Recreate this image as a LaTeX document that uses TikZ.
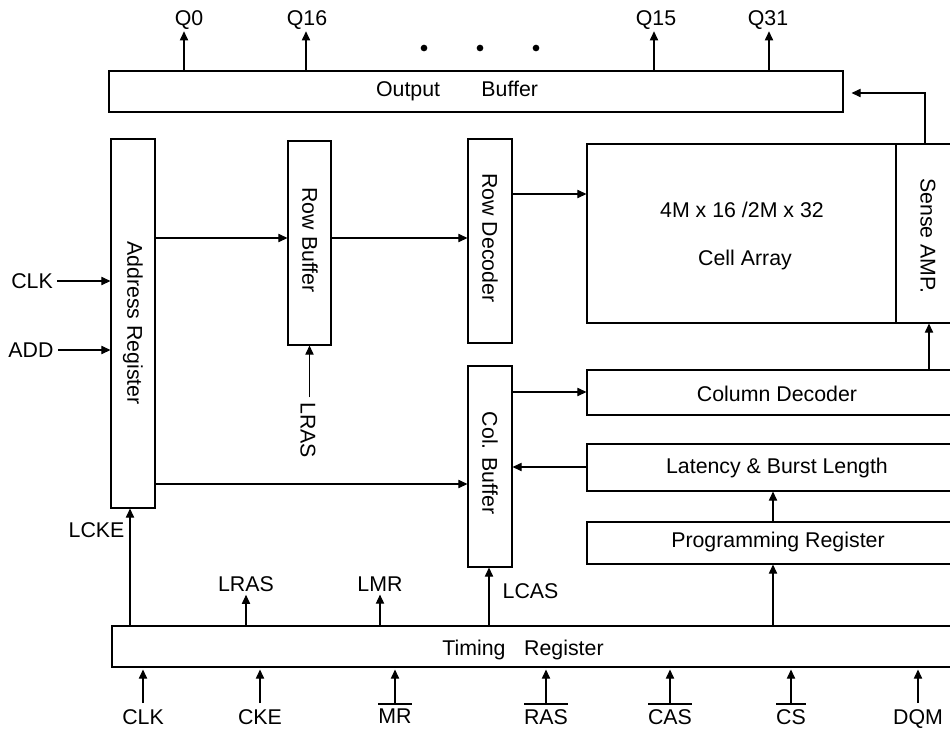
\documentclass[tikz,border=0pt]{standalone}
\usepackage{fontspec}
\setmainfont{Liberation Sans}
\usetikzlibrary{arrows.meta,fit}
\newcommand\ovl[1]{\vbox{\hrule height 1.5pt\kern 3pt\hbox{#1}}}
\newcommand\novl[1]{\vbox{\kern 4.5pt\hbox{#1}}}
\begin{document}
\begin{tikzpicture}[x=0.75pt,y=-0.75pt,
  font=\fontsize{16}{19}\selectfont,
  box/.style={draw,line width=0.8pt,inner sep=0pt},
  arr/.style={line width=0.8pt,-{Triangle[length=6.8pt,width=6.2pt]}},
  ln/.style={line width=0.8pt},
  botlbl/.style={anchor=north,inner sep=0pt},
  dot/.style={circle,fill,inner sep=0pt,minimum size=5pt}]
\useasboundingbox (0,0) rectangle (950,729);
\clip (0,0) rectangle (950,729);

% ---------- boxes ----------
\node[box,fit={(109,71) (843,112)}] (outbuf) {};
\node[box,fit={(111,139) (155,508)}] (addr) {};
\node[box,fit={(288,141) (331,345)}] (rowbuf) {};
\node[box,fit={(468,139) (512,343)}] (rowdec) {};
\node[box,fit={(587,144) (896,323)}] (cell) {};
\node[box,fit={(896,144) (965,323)}] (sense) {};
\node[box,fit={(587,370) (965,415)}] (coldec) {};
\node[box,fit={(587,444) (965,491)}] (lat) {};
\node[box,fit={(587,522) (965,564)}] (prog) {};
\node[box,fit={(468,366) (512,567)}] (colbuf) {};
\node[box,fit={(112,626) (965,667)}] (timing) {};

% ---------- box texts ----------
\node (outbuft) at (457,91) {Output\hspace{31pt}Buffer};
\node[rotate=-90] (addrt) at (133,323) {Address Register};
\node[rotate=-90] (rowbuft) at (310,240) {Row Buffer};
\node[rotate=-90] (rowdect) at (490,238) {Row Decoder};
\node (cellt1) at (742,210) {4M x 16 /2M x 32};
\node (cellt2) at (745,260) {Cell Array};
\node[rotate=-90] (senset) at (928,236) {Sense AMP.};
\node (coldect) at (777,394) {Column Decoder};
\node (latt) at (777,468) {Latency \& Burst Length};
\node (progt) at (778,542) {Programming Register};
\node[rotate=-90] (colbuft) at (490,463) {Col. Buffer};
\node (timingt) at (523,650) {Timing\hspace{14pt}Register};

% ---------- dots ----------
\node[dot] (d1) at (424,48) {};
\node[dot] (d2) at (480,48) {};
\node[dot] (d3) at (536,48) {};

% ---------- x / y positions of connectors ----------
\coordinate (xq0) at (184,0);
\coordinate (xq16) at (306,0);
\coordinate (xq15) at (654,0);
\coordinate (xq31) at (769,0);
\coordinate (xfb) at (925,0);
\coordinate (yfb) at (0,93);
\coordinate (yrow) at (0,238);
\coordinate (yrd) at (0,194);
\coordinate (yac) at (0,484);
\coordinate (ycd) at (0,392);
\coordinate (ylat) at (0,467);
\coordinate (xpr) at (773,0);
\coordinate (xsa) at (929,0);
\coordinate (xlcke) at (130,0);
\coordinate (xlcas) at (489,0);

% ---------- top outputs ----------
\node[anchor=base,inner sep=1.5pt] (q0) at (189,25) {Q0};
\node[anchor=base,inner sep=1.5pt] (q16) at (307,25) {Q16};
\node[anchor=base,inner sep=1.5pt] (q15) at (656,25) {Q15};
\node[anchor=base,inner sep=1.5pt] (q31) at (768,25) {Q31};
\draw[arr] (outbuf.north -| xq0) -- (q0.south -| xq0);
\draw[arr] (outbuf.north -| xq16) -- (q16.south -| xq16);
\draw[arr] (outbuf.north -| xq15) -- (q15.south -| xq15);
\draw[arr] (outbuf.north -| xq31) -- (q31.south -| xq31);

% feedback sense amp -> output buffer
\draw[arr] (sense.north -| xfb) -- (yfb -| xfb) -- ([xshift=6pt]outbuf.east |- yfb);

% ---------- left inputs ----------
\node (clkl) at (32,281) {CLK};
\node (addl) at (31,350) {ADD};
\draw[arr] (clkl.east) -- (addr.west |- clkl.east);
\draw[arr] (addl.east) -- (addr.west |- addl.east);

% ---------- internal flow ----------
\draw[arr] (addr.east |- yrow) -- (rowbuf.west |- yrow);
\draw[arr] (rowbuf.east |- yrow) -- (rowdec.west |- yrow);
\draw[arr] (rowdec.east |- yrd) -- (cell.west |- yrd);
\draw[arr] (addr.east |- yac) -- (colbuf.west |- yac);
\draw[arr] (colbuf.east |- ycd) -- (coldec.west |- ycd);
\draw[arr] (lat.west |- ylat) -- (colbuf.east |- ylat);
\draw[arr] (prog.north -| xpr) -- (lat.south -| xpr);
\draw[arr] (coldec.north -| xsa) -- (sense.south -| xsa);

% LRAS into row buffer
\node[rotate=-90] (lras1) at (308,430) {LRAS};
\draw[arr] (lras1.west -| rowbuf.south) -- (rowbuf.south);

% ---------- timing register outputs ----------
\node[anchor=base west] (lcke) at (64,537) {LCKE};
\node[anchor=base,inner sep=2.5pt] (lras2) at (246,591) {LRAS};
\node[anchor=base,inner sep=2.5pt] (lmr) at (380,591) {LMR};
\node[anchor=base west] (lcas) at (498,598) {LCAS};
\draw[arr] (timing.north -| xlcke) -- (addr.south -| xlcke);
\draw[arr] (timing.north -| lras2.south) -- (lras2.south);
\draw[arr] (timing.north -| lmr.south) -- (lmr.south);
\draw[arr] (timing.north -| xlcas) -- (colbuf.south -| xlcas);
\draw[arr] (timing.north -| xpr) -- (prog.south -| xpr);

% ---------- bottom inputs ----------
\node[botlbl] (bclk) at (143,703) {\novl{CLK}};
\node[botlbl] (bcke) at (260,703) {\novl{CKE}};
\node[botlbl] (bmr) at (395,703) {\ovl{MR}};
\node[botlbl] (bras) at (546,703) {\ovl{RAS}};
\node[botlbl] (bcas) at (670,703) {\ovl{CAS}};
\node[botlbl] (bcs) at (791,703) {\ovl{CS}};
\node[botlbl] (bdqm) at (918,703) {\novl{DQM}};
\foreach \n in {bclk,bcke,bmr,bras,bcas,bcs,bdqm}
  \draw[arr,shorten >=1.5pt] (\n.north) -- (\n.north |- timing.south);
\end{tikzpicture}
\end{document}
